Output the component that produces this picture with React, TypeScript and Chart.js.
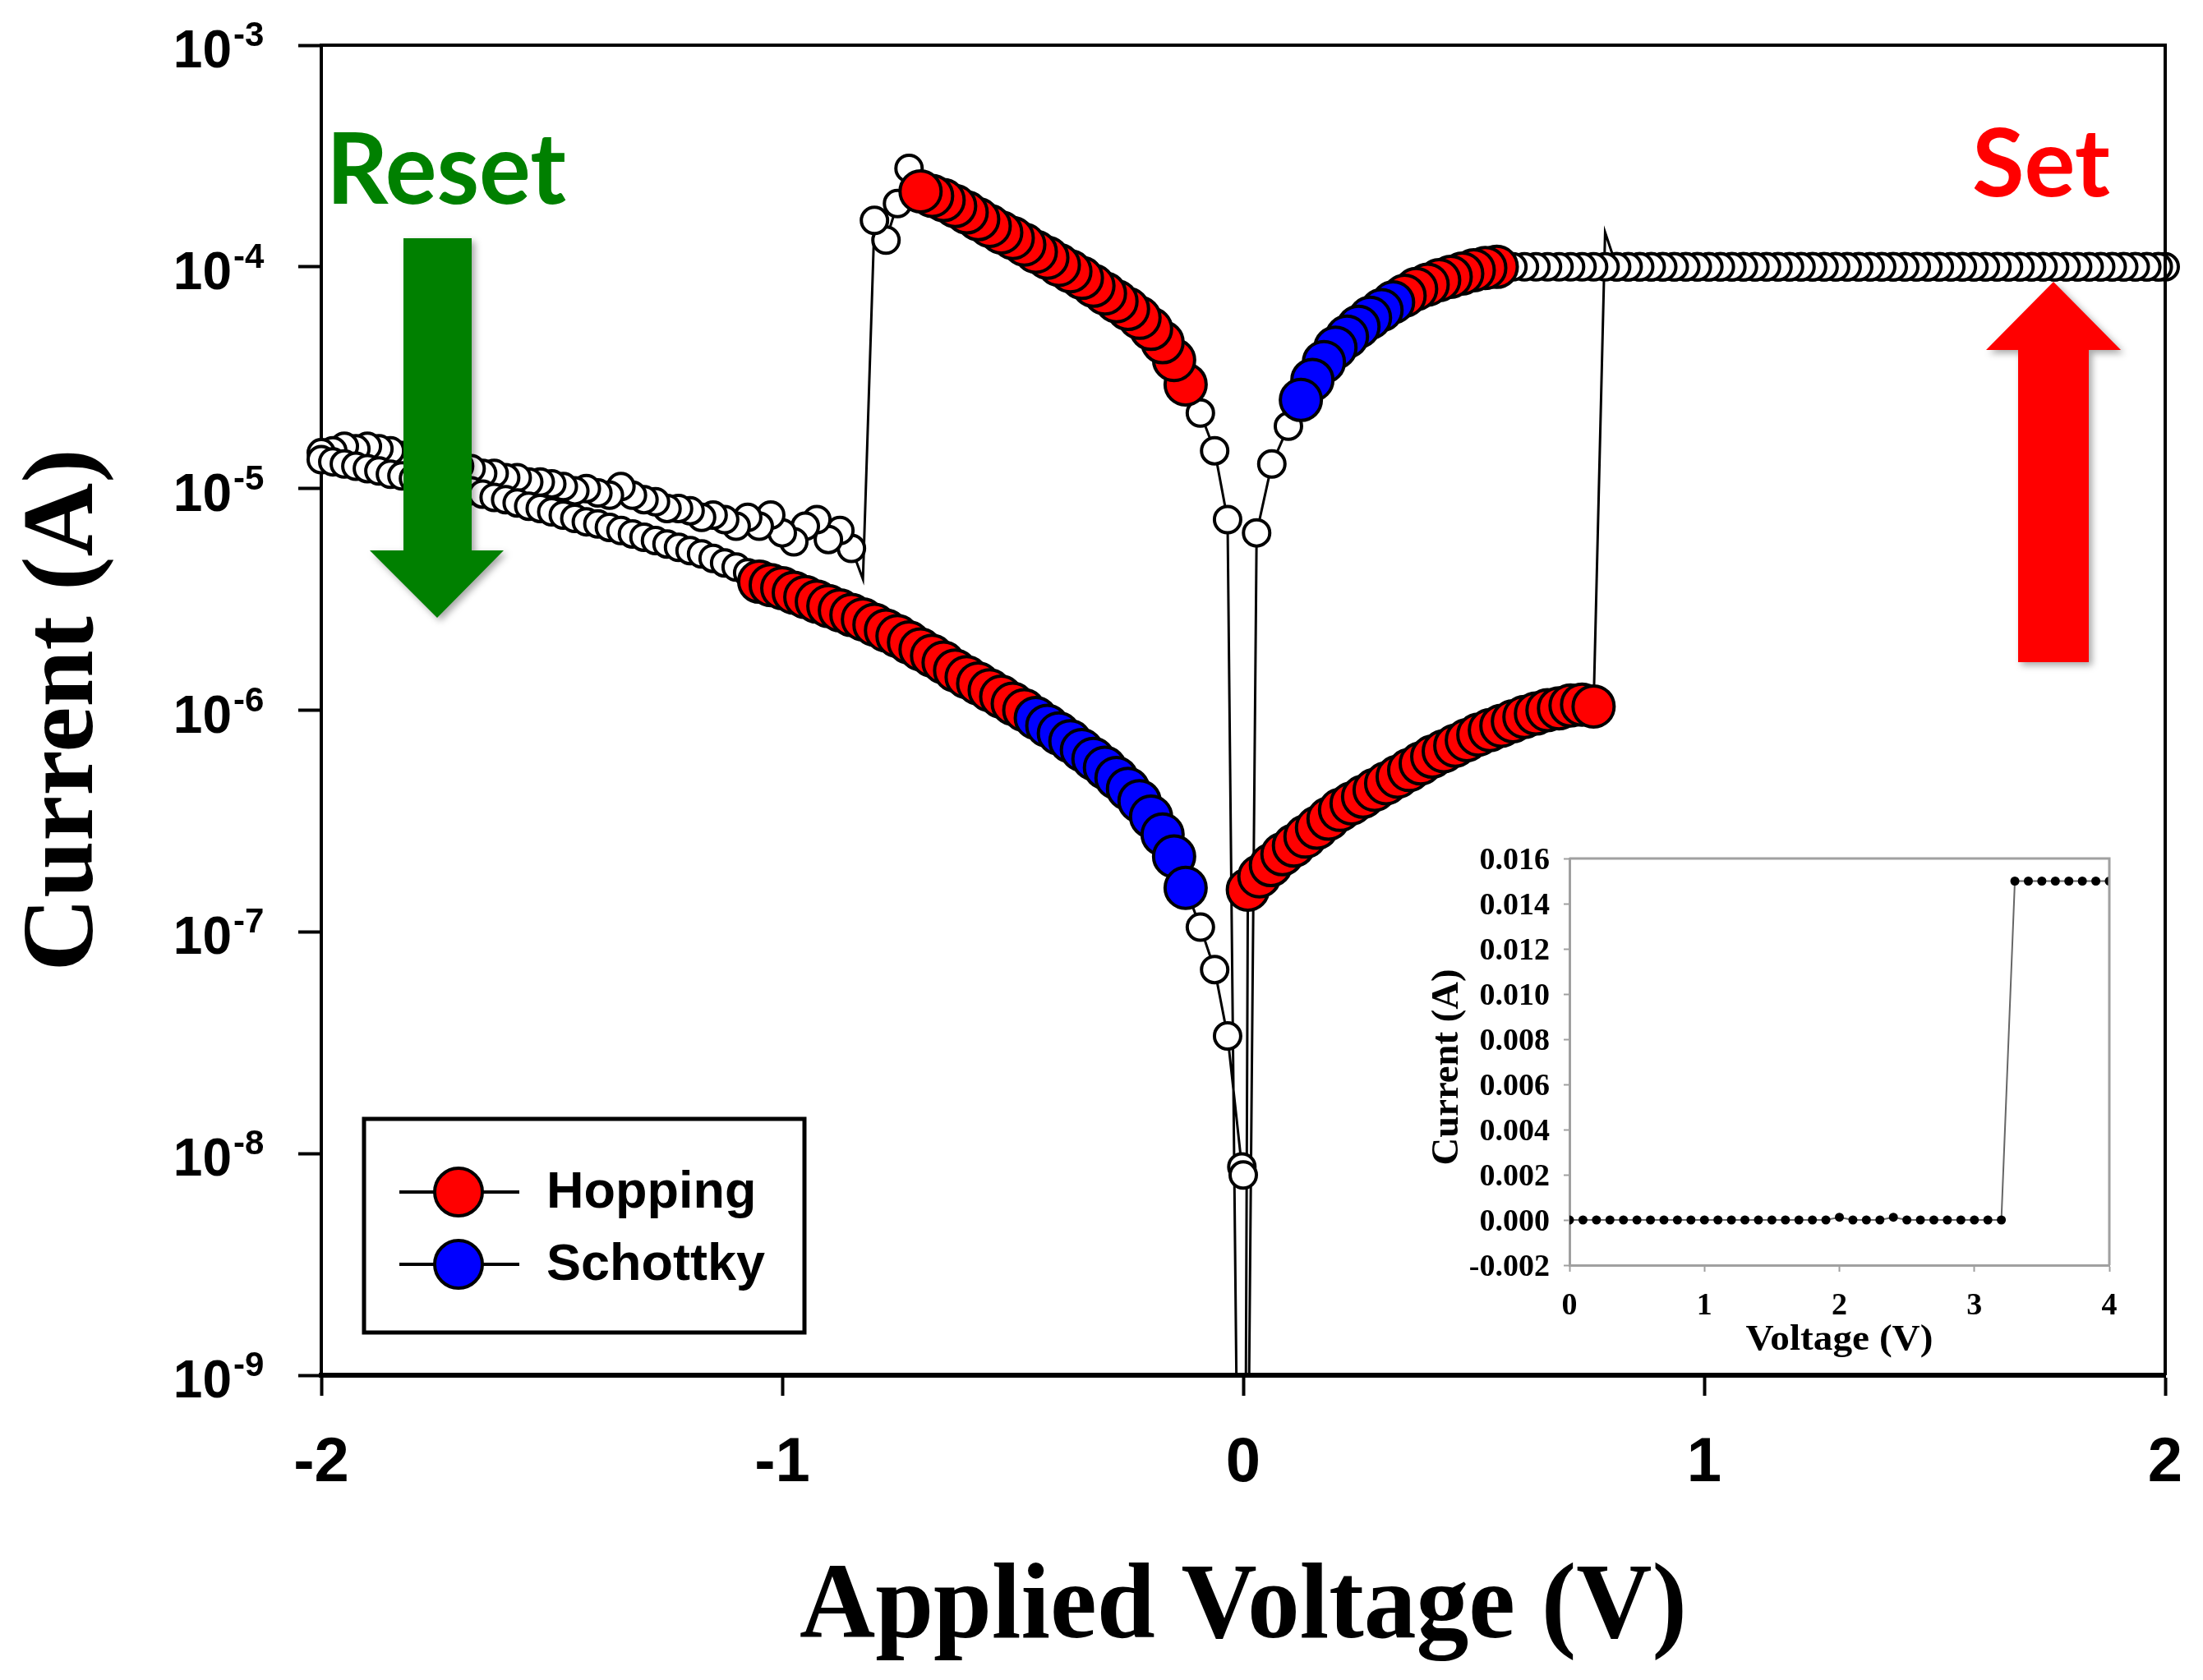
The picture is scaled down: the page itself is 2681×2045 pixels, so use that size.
import React, { useEffect, useRef } from 'react';
import { Chart, registerables } from 'chart.js';

Chart.register(...registerables);

// ---------------- Main chart data (Voltage V, Current A) ----------------
// Sweep start at 0 V
const startV = [0.0];
const startI = [1e-12];
// Set sweep, HRS positive branch (Hopping fit)
const setHrsV = [0.01, 0.035, 0.06, 0.085, 0.11, 0.135, 0.16, 0.185, 0.21, 0.235, 0.26, 0.285, 0.31, 0.335, 0.36, 0.385, 0.41, 0.435, 0.46, 0.485, 0.51, 0.535, 0.56, 0.585, 0.61, 0.635, 0.66, 0.685, 0.71, 0.735, 0.76];
const setHrsI = [1.55e-7, 1.78e-7, 2.0e-7, 2.24e-7, 2.45e-7, 2.69e-7, 2.95e-7, 3.24e-7, 3.55e-7, 3.8e-7, 4.07e-7, 4.37e-7, 4.68e-7, 5.01e-7, 5.37e-7, 5.75e-7, 6.17e-7, 6.53e-7, 6.92e-7, 7.33e-7, 7.76e-7, 8.13e-7, 8.51e-7, 8.91e-7, 9.33e-7, 9.66e-7, 1.0e-6, 1.02e-6, 1.05e-6, 1.06e-6, 1.04e-6];
// Set event (overshoot spike, no marker drawn)
const setJumpV = [0.785];
const setJumpI = [1.43e-4];
// Compliance plateau, forward
const lrsFwdV = [0.81, 0.835, 0.86, 0.885, 0.91, 0.935, 0.96, 0.985, 1.01, 1.035, 1.06, 1.085, 1.11, 1.135, 1.16, 1.185, 1.21, 1.235, 1.26, 1.285, 1.31, 1.335, 1.36, 1.385, 1.41, 1.435, 1.46, 1.485, 1.51, 1.535, 1.56, 1.585, 1.61, 1.635, 1.66, 1.685, 1.71, 1.735, 1.76, 1.785, 1.81, 1.835, 1.86, 1.885, 1.91, 1.935, 1.96, 1.985, 2.0];
const lrsFwdI = [1e-4, 1e-4, 1e-4, 1e-4, 1e-4, 1e-4, 1e-4, 1e-4, 1e-4, 1e-4, 1e-4, 1e-4, 1e-4, 1e-4, 1e-4, 1e-4, 1e-4, 1e-4, 1e-4, 1e-4, 1e-4, 1e-4, 1e-4, 1e-4, 1e-4, 1e-4, 1e-4, 1e-4, 1e-4, 1e-4, 1e-4, 1e-4, 1e-4, 1e-4, 1e-4, 1e-4, 1e-4, 1e-4, 1e-4, 1e-4, 1e-4, 1e-4, 1e-4, 1e-4, 1e-4, 1e-4, 1e-4, 1e-4, 1e-4];
// Plateau, backward
const lrsBackV = [1.985, 1.96, 1.935, 1.91, 1.885, 1.86, 1.835, 1.81, 1.785, 1.76, 1.735, 1.71, 1.685, 1.66, 1.635, 1.61, 1.585, 1.56, 1.535, 1.51, 1.485, 1.46, 1.435, 1.41, 1.385, 1.36, 1.335, 1.31, 1.285, 1.26, 1.235, 1.21, 1.185, 1.16, 1.135, 1.11, 1.085, 1.06, 1.035, 1.01, 0.985, 0.96, 0.935, 0.91, 0.885, 0.86, 0.835, 0.81, 0.785, 0.76, 0.735, 0.71, 0.685, 0.66, 0.635, 0.61, 0.585];
const lrsBackI = [1e-4, 1e-4, 1e-4, 1e-4, 1e-4, 1e-4, 1e-4, 1e-4, 1e-4, 1e-4, 1e-4, 1e-4, 1e-4, 1e-4, 1e-4, 1e-4, 1e-4, 1e-4, 1e-4, 1e-4, 1e-4, 1e-4, 1e-4, 1e-4, 1e-4, 1e-4, 1e-4, 1e-4, 1e-4, 1e-4, 1e-4, 1e-4, 1e-4, 1e-4, 1e-4, 1e-4, 1e-4, 1e-4, 1e-4, 1e-4, 1e-4, 1e-4, 1e-4, 1e-4, 1e-4, 1e-4, 1e-4, 1e-4, 1e-4, 1e-4, 1e-4, 1e-4, 1e-4, 1e-4, 1e-4, 1e-4, 1e-4];
// LRS positive, Hopping part
const lrsPosRedV = [0.55, 0.525, 0.5, 0.475, 0.45, 0.425, 0.4, 0.375, 0.35];
const lrsPosRedI = [1.0e-4, 9.89e-5, 9.66e-5, 9.33e-5, 9.02e-5, 8.71e-5, 8.32e-5, 7.94e-5, 7.41e-5];
// LRS positive, Schottky part
const lrsPosBlueV = [0.325, 0.3, 0.275, 0.25, 0.225, 0.2, 0.175, 0.15, 0.125];
const lrsPosBlueI = [6.92e-5, 6.38e-5, 5.89e-5, 5.37e-5, 4.84e-5, 4.32e-5, 3.72e-5, 3.09e-5, 2.51e-5];
// LRS positive tail to 0 V
const lrsPosTailV = [0.098, 0.062, 0.029, 0.0];
const lrsPosTailI = [1.91e-5, 1.29e-5, 6.31e-6, 1e-12];
// LRS negative start
const lrsNegHeadV = [-0.034, -0.062, -0.093];
const lrsNegHeadI = [7.24e-6, 1.48e-5, 2.19e-5];
// LRS negative, Hopping part
const lrsNegRedV = [-0.125, -0.15, -0.175, -0.2, -0.225, -0.25, -0.275, -0.3, -0.325, -0.35, -0.375, -0.4, -0.425, -0.45, -0.475, -0.5, -0.525, -0.55, -0.575, -0.6, -0.625, -0.65, -0.675, -0.7];
const lrsNegRedI = [2.95e-5, 3.8e-5, 4.57e-5, 5.25e-5, 5.89e-5, 6.46e-5, 7.0e-5, 7.59e-5, 8.22e-5, 8.91e-5, 9.55e-5, 1.02e-4, 1.1e-4, 1.17e-4, 1.26e-4, 1.35e-4, 1.43e-4, 1.53e-4, 1.64e-4, 1.76e-4, 1.88e-4, 2.0e-4, 2.09e-4, 2.19e-4];
// Reset event
const resetV = [-0.725, -0.75, -0.775, -0.8];
const resetI = [2.78e-4, 1.93e-4, 1.32e-4, 1.62e-4];
// Reset drop (line tip, no marker drawn)
const resetDropV = [-0.825];
const resetDropI = [3.9e-6];
// HRS negative, outbound to -2 V
const hrsNegOutV = [-0.85, -0.875, -0.9, -0.925, -0.95, -0.975, -1.0, -1.025, -1.05, -1.075, -1.1, -1.125, -1.15, -1.175, -1.2, -1.225, -1.25, -1.275, -1.3, -1.325, -1.35, -1.375, -1.4, -1.425, -1.45, -1.475, -1.5, -1.525, -1.55, -1.575, -1.6, -1.625, -1.65, -1.675, -1.7, -1.725, -1.75, -1.775, -1.8, -1.825, -1.85, -1.875, -1.9, -1.925, -1.95, -1.975, -2.0];
const hrsNegOutI = [5.37e-6, 6.46e-6, 5.89e-6, 7.24e-6, 6.76e-6, 5.75e-6, 6.31e-6, 7.59e-6, 6.76e-6, 7.41e-6, 6.76e-6, 7.24e-6, 7.59e-6, 7.41e-6, 7.94e-6, 8.13e-6, 8.13e-6, 8.71e-6, 8.91e-6, 9.33e-6, 1.02e-5, 9.33e-6, 9.55e-6, 1.0e-5, 9.77e-6, 1.02e-5, 1.05e-5, 1.07e-5, 1.07e-5, 1.12e-5, 1.12e-5, 1.17e-5, 1.17e-5, 1.23e-5, 1.26e-5, 1.29e-5, 1.32e-5, 1.35e-5, 1.38e-5, 1.41e-5, 1.48e-5, 1.51e-5, 1.55e-5, 1.51e-5, 1.55e-5, 1.48e-5, 1.45e-5];
// HRS negative, return from -2 V
const hrsNegBackV = [-2.0, -1.975, -1.95, -1.925, -1.9, -1.875, -1.85, -1.825, -1.8, -1.775, -1.75, -1.725, -1.7, -1.675, -1.65, -1.625, -1.6, -1.575, -1.55, -1.525, -1.5, -1.475, -1.45, -1.425, -1.4, -1.375, -1.35, -1.325, -1.3, -1.275, -1.25, -1.225, -1.2, -1.175, -1.15, -1.125, -1.1, -1.075];
const hrsNegBackI = [1.35e-5, 1.32e-5, 1.29e-5, 1.26e-5, 1.23e-5, 1.2e-5, 1.16e-5, 1.14e-5, 1.11e-5, 1.08e-5, 1.06e-5, 1.02e-5, 1.0e-5, 9.77e-6, 9.44e-6, 9.12e-6, 8.91e-6, 8.61e-6, 8.32e-6, 8.13e-6, 7.85e-6, 7.59e-6, 7.33e-6, 7.08e-6, 6.92e-6, 6.68e-6, 6.46e-6, 6.24e-6, 6.03e-6, 5.82e-6, 5.62e-6, 5.43e-6, 5.25e-6, 5.07e-6, 4.84e-6, 4.62e-6, 4.42e-6, 4.17e-6];
// HRS negative, Hopping part
const hrsNegRedV = [-1.05, -1.025, -1.0, -0.975, -0.95, -0.925, -0.9, -0.875, -0.85, -0.825, -0.8, -0.775, -0.75, -0.725, -0.7, -0.675, -0.65, -0.625, -0.6, -0.575, -0.55, -0.525, -0.5, -0.475];
const hrsNegRedI = [3.8e-6, 3.67e-6, 3.55e-6, 3.39e-6, 3.24e-6, 3.09e-6, 2.95e-6, 2.82e-6, 2.69e-6, 2.57e-6, 2.43e-6, 2.29e-6, 2.16e-6, 2.02e-6, 1.88e-6, 1.76e-6, 1.64e-6, 1.51e-6, 1.41e-6, 1.32e-6, 1.23e-6, 1.15e-6, 1.07e-6, 1.0e-6];
// HRS negative, Schottky part
const hrsNegBlueV = [-0.45, -0.425, -0.4, -0.375, -0.35, -0.325, -0.3, -0.275, -0.25, -0.225, -0.2, -0.175, -0.15, -0.125];
const hrsNegBlueI = [9.23e-7, 8.51e-7, 7.85e-7, 7.24e-7, 6.61e-7, 6.03e-7, 5.5e-7, 4.95e-7, 4.42e-7, 3.89e-7, 3.31e-7, 2.75e-7, 2.19e-7, 1.58e-7];
// HRS negative tail to 0 V
const hrsNegTailV = [-0.093, -0.062, -0.034, -0.003, 0.0];
const hrsNegTailI = [1.05e-7, 6.76e-8, 3.39e-8, 8.7e-9, 8.0e-9];

// Axis ticks
const xTickValues = [-2, -1, 0, 1, 2];
const xTickLabels = ['-2', '-1', '0', '1', '2'];
const yTickValues = [1e-3, 1e-4, 1e-5, 1e-6, 1e-7, 1e-8, 1e-9];
const yTickBase = '10';
const yTickExps = ['-3', '-4', '-5', '-6', '-7', '-8', '-9'];

// ---------------- Inset data ----------------
const insetV = [0, 0.1, 0.2, 0.3, 0.4, 0.5, 0.6, 0.7, 0.8, 0.9, 1.0, 1.1, 1.2, 1.3, 1.4, 1.5, 1.6, 1.7, 1.8, 1.9, 2.0, 2.1, 2.2, 2.3, 2.4, 2.5, 2.6, 2.7, 2.8, 2.9, 3.0, 3.1, 3.2, 3.3, 3.4, 3.5, 3.6, 3.7, 3.8, 3.9, 4.0];
const insetI = [0, 0, 0, 0, 0, 0, 0, 0, 0, 0, 0, 0, 0, 0, 0, 0, 0, 0, 0, 0, 0.00012, 0, 0, 0, 0.00012, 0, 0, 0, 0, 0, 0, 0, 0, 0.015, 0.015, 0.015, 0.015, 0.015, 0.015, 0.015, 0.015];
const insetXTickValues = [0, 1, 2, 3, 4];
const insetXTickLabels = ['0', '1', '2', '3', '4'];
const insetYTickValues = [0.016, 0.014, 0.012, 0.01, 0.008, 0.006, 0.004, 0.002, 0, -0.002];
const insetYTickLabels = ['0.016', '0.014', '0.012', '0.010', '0.008', '0.006', '0.004', '0.002', '0.000', '-0.002'];

const FONT_SANS = "'Liberation Sans', Arial, Helvetica, sans-serif";
const FONT_SERIF = "'Liberation Serif', 'Times New Roman', serif";
const FONT_CAL = "Lato, 'Open Sans', sans-serif";

function pts(v: number[], i: number[], marker = true) {
  return v.map((x, k) => ({ x, y: i[k], marker }));
}

const sweepPoints = [
  ...pts(startV, startI),
  ...pts(setHrsV, setHrsI),
  ...pts(setJumpV, setJumpI, false),
  ...pts(lrsFwdV, lrsFwdI),
  ...pts(lrsBackV, lrsBackI),
  ...pts(lrsPosRedV, lrsPosRedI),
  ...pts(lrsPosBlueV, lrsPosBlueI),
  ...pts(lrsPosTailV, lrsPosTailI),
  ...pts(lrsNegHeadV, lrsNegHeadI),
  ...pts(lrsNegRedV, lrsNegRedI),
  ...pts(resetV, resetI),
  ...pts(resetDropV, resetDropI, false),
  ...pts(hrsNegOutV, hrsNegOutI),
  ...pts(hrsNegBackV, hrsNegBackI),
  ...pts(hrsNegRedV, hrsNegRedI),
  ...pts(hrsNegBlueV, hrsNegBlueI),
  ...pts(hrsNegTailV, hrsNegTailI),
];
const hoppingPoints = [
  ...pts(setHrsV, setHrsI),
  ...pts(lrsPosRedV, lrsPosRedI),
  ...pts(lrsNegRedV, lrsNegRedI),
  ...pts(hrsNegRedV, hrsNegRedI),
];
const schottkyPoints = [
  ...pts(lrsPosBlueV, lrsPosBlueI),
  ...pts(hrsNegBlueV, hrsNegBlueI),
];
const insetPoints = pts(insetV, insetI);

function fitText(ctx: CanvasRenderingContext2D, text: string, x: number, y: number, font: string, width: number, align: CanvasTextAlign) {
  ctx.save();
  ctx.font = font;
  const w = ctx.measureText(text).width;
  ctx.translate(x, y);
  ctx.scale(width / w, 1);
  ctx.textAlign = align;
  ctx.textBaseline = 'alphabetic';
  ctx.fillText(text, 0, 0);
  ctx.restore();
}

const mainDecor = {
  id: 'mainDecor',
  afterDraw(chart: any) {
    const ctx: CanvasRenderingContext2D = chart.ctx;
    const ca = chart.chartArea;
    const xs = chart.scales.x;
    const ys = chart.scales.y;
    ctx.save();
    // frame top/right
    ctx.strokeStyle = '#000';
    ctx.lineWidth = 4;
    ctx.beginPath();
    ctx.moveTo(ca.left - 2, ca.top);
    ctx.lineTo(ca.right, ca.top);
    ctx.lineTo(ca.right, ca.bottom);
    ctx.stroke();

    ctx.fillStyle = '#000';
    ctx.textBaseline = 'alphabetic';
    // y tick labels 10^n
    yTickValues.forEach((v, i) => {
      const y = ys.getPixelForValue(v);
      ctx.font = `bold 64px ${FONT_SANS}`;
      ctx.textAlign = 'right';
      ctx.fillText(yTickBase, ca.left - 109, y + 27);
      ctx.font = `bold 42px ${FONT_SANS}`;
      ctx.textAlign = 'left';
      ctx.fillText(yTickExps[i], ca.left - 107, y + 1);
    });
    // x tick labels
    ctx.font = `bold 76px ${FONT_SANS}`;
    ctx.textAlign = 'center';
    xTickValues.forEach((v, i) => {
      ctx.fillText(xTickLabels[i], xs.getPixelForValue(v), ca.bottom + 129);
    });
    // axis titles
    fitText(ctx, 'Applied Voltage (V)', (ca.left + ca.right) / 2, ca.bottom + 319, `bold 132px ${FONT_SERIF}`, 1080, 'center');
    ctx.save();
    ctx.translate(112, (ca.top + ca.bottom) / 2);
    ctx.rotate(-Math.PI / 2);
    fitText(ctx, 'Current (A)', 0, 0, `bold 122px ${FONT_SERIF}`, 636, 'center');
    ctx.restore();

    // arrows
    ctx.save();
    ctx.shadowColor = 'rgba(0,0,0,0.35)';
    ctx.shadowBlur = 8;
    ctx.shadowOffsetX = 4;
    ctx.shadowOffsetY = 4;
    ctx.fillStyle = '#008000';
    ctx.beginPath();
    ctx.moveTo(491, 290);
    ctx.lineTo(574, 290);
    ctx.lineTo(574, 670);
    ctx.lineTo(613, 670);
    ctx.lineTo(532, 752);
    ctx.lineTo(450, 670);
    ctx.lineTo(491, 670);
    ctx.closePath();
    ctx.fill();
    ctx.fillStyle = '#ff0000';
    ctx.beginPath();
    ctx.moveTo(2456, 806);
    ctx.lineTo(2542, 806);
    ctx.lineTo(2542, 426);
    ctx.lineTo(2581, 426);
    ctx.lineTo(2499, 343);
    ctx.lineTo(2417, 426);
    ctx.lineTo(2456, 426);
    ctx.closePath();
    ctx.fill();
    ctx.restore();

    // Reset / Set labels
    ctx.fillStyle = '#008000';
    fitText(ctx, 'Reset', 397, 248, `bold 121px ${FONT_CAL}`, 292, 'left');
    ctx.fillStyle = '#ff0000';
    fitText(ctx, 'Set', 2400, 239, `bold 114px ${FONT_CAL}`, 168, 'left');

    // legend
    ctx.fillStyle = '#fff';
    ctx.fillRect(443, 1362, 536, 260);
    ctx.strokeStyle = '#000';
    ctx.lineWidth = 5;
    ctx.strokeRect(443, 1362, 536, 260);
    const entries = [
      { ds: chart.data.datasets[1], y: 1451, base: 1470 },
      { ds: chart.data.datasets[0], y: 1539, base: 1558 },
    ];
    entries.forEach((e) => {
      ctx.strokeStyle = '#000';
      ctx.lineWidth = 4;
      ctx.beginPath();
      ctx.moveTo(486, e.y);
      ctx.lineTo(632, e.y);
      ctx.stroke();
      ctx.beginPath();
      ctx.arc(558, e.y, 29, 0, Math.PI * 2);
      ctx.fillStyle = e.ds.pointBackgroundColor;
      ctx.fill();
      ctx.stroke();
      ctx.fillStyle = '#000';
      ctx.font = `bold 63px ${FONT_SANS}`;
      ctx.textAlign = 'left';
      ctx.textBaseline = 'alphabetic';
      ctx.fillText(e.ds.label, 665, e.base);
    });
    ctx.restore();
  },
};

const insetDecor = {
  id: 'insetDecor',
  afterDraw(chart: any) {
    const ctx: CanvasRenderingContext2D = chart.ctx;
    const ca = chart.chartArea;
    const xs = chart.scales.x;
    const ys = chart.scales.y;
    ctx.save();
    ctx.strokeStyle = '#a0a0a0';
    ctx.lineWidth = 3;
    ctx.beginPath();
    ctx.moveTo(ca.left, ca.top);
    ctx.lineTo(ca.right, ca.top);
    ctx.lineTo(ca.right, ca.bottom);
    ctx.stroke();
    ctx.fillStyle = '#000';
    ctx.font = `bold 38px ${FONT_SERIF}`;
    ctx.textBaseline = 'alphabetic';
    ctx.textAlign = 'right';
    insetYTickValues.forEach((v, i) => {
      ctx.fillText(insetYTickLabels[i], ca.left - 24, ys.getPixelForValue(v) + 13);
    });
    ctx.textAlign = 'center';
    insetXTickValues.forEach((v, i) => {
      ctx.fillText(insetXTickLabels[i], xs.getPixelForValue(v), ca.bottom + 60);
    });
    fitText(ctx, 'Voltage (V)', (ca.left + ca.right) / 2, ca.bottom + 103, `bold 44px ${FONT_SERIF}`, 228, 'center');
    ctx.save();
    ctx.translate(84, ca.top + 254);
    ctx.rotate(-Math.PI / 2);
    fitText(ctx, 'Current (A)', 0, 0, `bold 46px ${FONT_SERIF}`, 239, 'center');
    ctx.restore();
    ctx.restore();
  },
};

export default function App() {
  const mainRef = useRef<HTMLCanvasElement>(null);
  const insetRef = useRef<HTMLCanvasElement>(null);

  useEffect(() => {
    const clip = { left: 40, top: 40, right: 40, bottom: 0 };
    const main = new Chart(mainRef.current as HTMLCanvasElement, {
      type: 'scatter',
      data: {
        datasets: [
          {
            label: 'Schottky',
            data: schottkyPoints,
            showLine: false,
            pointRadius: 25,
            pointBorderWidth: 4,
            pointBackgroundColor: '#0000ff',
            pointBorderColor: '#000',
            order: 1,
            clip,
          } as any,
          {
            label: 'Hopping',
            data: hoppingPoints,
            showLine: false,
            pointRadius: 25,
            pointBorderWidth: 4,
            pointBackgroundColor: '#ff0000',
            pointBorderColor: '#000',
            order: 2,
            clip,
          } as any,
          {
            label: 'I-V sweep',
            data: sweepPoints,
            showLine: true,
            borderColor: '#000',
            borderWidth: 3,
            tension: 0,
            pointRadius: (c: any) => (c.raw && c.raw.marker === false ? 0 : 16),
            pointBorderWidth: (c: any) => (c.raw && c.raw.marker === false ? 0 : 4),
            pointBackgroundColor: '#fff',
            pointBorderColor: '#000',
            order: 3,
            clip,
          } as any,
        ],
      },
      options: {
        animation: false,
        responsive: false,
        maintainAspectRatio: false,
        devicePixelRatio: 1,
        events: [],
        layout: { padding: { left: 0, top: 55, right: 46, bottom: 0 } },
        plugins: { legend: { display: false }, tooltip: { enabled: false } },
        scales: {
          x: {
            type: 'linear',
            min: -2,
            max: 2,
            afterBuildTicks: (s: any) => { s.ticks = xTickValues.map((v) => ({ value: v })); },
            afterFit: (s: any) => { s.height = 371; },
            ticks: { display: false },
            grid: { display: true, drawOnChartArea: false, drawTicks: true, tickLength: 25, tickWidth: 4, tickColor: '#000', color: '#000' },
            border: { display: true, color: '#000', width: 6 },
          },
          y: {
            type: 'logarithmic',
            min: 1e-9,
            max: 1e-3,
            afterBuildTicks: (s: any) => { s.ticks = yTickValues.map((v) => ({ value: v })); },
            afterFit: (s: any) => { s.width = 391; },
            ticks: { display: false },
            grid: { display: true, drawOnChartArea: false, drawTicks: true, tickLength: 28, tickWidth: 4, tickColor: '#000', color: '#000' },
            border: { display: true, color: '#000', width: 4 },
          },
        },
      } as any,
      plugins: [mainDecor],
    });

    const inset = new Chart(insetRef.current as HTMLCanvasElement, {
      type: 'scatter',
      data: {
        datasets: [
          {
            label: 'Inset',
            data: insetPoints,
            showLine: true,
            borderColor: '#666',
            borderWidth: 2,
            tension: 0,
            pointRadius: 5.5,
            pointBorderWidth: 0,
            pointBackgroundColor: '#000',
            pointBorderColor: '#000',
          } as any,
        ],
      },
      options: {
        animation: false,
        responsive: false,
        maintainAspectRatio: false,
        devicePixelRatio: 1,
        events: [],
        layout: { padding: { left: 0, top: 45, right: 63, bottom: 0 } },
        plugins: { legend: { display: false }, tooltip: { enabled: false } },
        scales: {
          x: {
            type: 'linear',
            min: 0,
            max: 4,
            afterBuildTicks: (s: any) => { s.ticks = insetXTickValues.map((v) => ({ value: v })); },
            afterFit: (s: any) => { s.height = 120; },
            ticks: { display: false },
            grid: { display: true, drawOnChartArea: false, drawTicks: true, tickLength: 8, tickWidth: 2, tickColor: '#a0a0a0', color: '#a0a0a0' },
            border: { display: true, color: '#a0a0a0', width: 3 },
          },
          y: {
            type: 'linear',
            min: -0.002,
            max: 0.016,
            afterBuildTicks: (s: any) => { s.ticks = insetYTickValues.map((v) => ({ value: v })); },
            afterFit: (s: any) => { s.width = 220; },
            ticks: { display: false },
            grid: { display: true, drawOnChartArea: false, drawTicks: true, tickLength: 7, tickWidth: 2, tickColor: '#a0a0a0', color: '#a0a0a0' },
            border: { display: true, color: '#a0a0a0', width: 3 },
          },
        },
      } as any,
      plugins: [insetDecor],
    });

    return () => {
      main.destroy();
      inset.destroy();
    };
  }, []);

  return (
    <div style={{ position: 'absolute', left: 0, top: 0, width: 2681, height: 2045, background: '#fff', overflow: 'hidden' }}>
      <canvas ref={mainRef} width={2681} height={2045} style={{ position: 'absolute', left: 0, top: 0, width: 2681, height: 2045 }} />
      <canvas ref={insetRef} width={940} height={660} style={{ position: 'absolute', left: 1690, top: 1000, width: 940, height: 660 }} />
    </div>
  );
}
